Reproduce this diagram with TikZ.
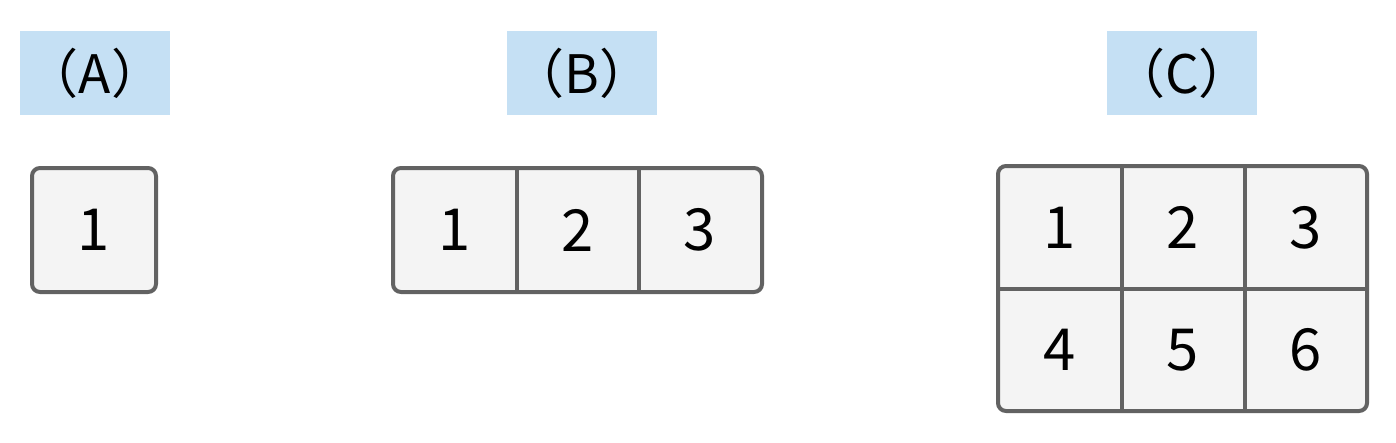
\documentclass[tikz,border=0pt]{standalone}
\usepackage{fontspec}
\setmainfont{Noto Sans CJK JP}
\definecolor{cellfill}{HTML}{F4F4F4}
\definecolor{cellline}{HTML}{626262}
\definecolor{labelfill}{HTML}{C5E0F4}
\tikzset{
  grp/.style={draw=cellline, line width=4pt, fill=cellfill, rounded corners=8pt},
  cell/.style={minimum width=123pt, minimum height=123pt, inner sep=0pt, font=\fontsize{58}{60}\selectfont},
  divider/.style={draw=cellline, line width=4pt},
  tag/.style={fill=labelfill, minimum width=150pt, minimum height=84pt, inner sep=0pt, font=\fontsize{53}{56}\selectfont}
}
\begin{document}
\begin{tikzpicture}[x=1pt,y=-1pt]
\useasboundingbox (0,0) rectangle (1396,442);
% labels
\node[tag] (la) at (95,73) {（A）};
\node[tag] (lb) at (582,73) {（B）};
\node[tag] (lc) at (1182,73) {（C）};
% group A
\draw[grp] (32,168) rectangle (156,292);
\node[cell] (a1) at (94,230) {1};
% group B
\draw[grp] (393,168) rectangle (762,292);
\node[cell] (b1) at (455,230) {1};
\node[cell] (b2) at (577.5,230) {2};
\node[cell] (b3) at (700,230) {3};
\draw[divider] (516.5,168) -- (516.5,292);
\draw[divider] (639,168) -- (639,292);
% group C
\draw[grp] (998,166) rectangle (1367,411);
\node[cell] (c1) at (1059.5,227.5) {1};
\node[cell] (c2) at (1183,227.5) {2};
\node[cell] (c3) at (1306,227.5) {3};
\node[cell] (c4) at (1059.5,350) {4};
\node[cell] (c5) at (1183,350) {5};
\node[cell] (c6) at (1306,350) {6};
\draw[divider] (1122,166) -- (1122,411);
\draw[divider] (1245,166) -- (1245,411);
\draw[divider] (998,289) -- (1367,289);
\end{tikzpicture}
\end{document}
